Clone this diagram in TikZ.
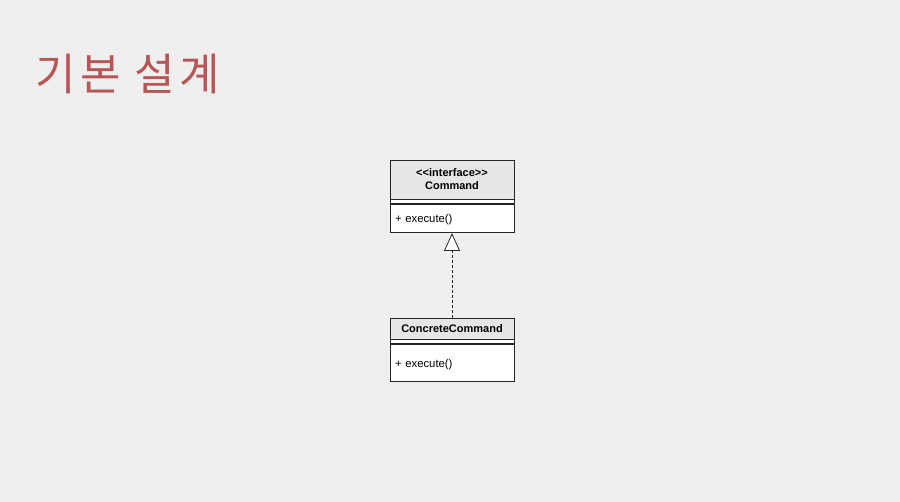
\documentclass[tikz,border=0pt]{standalone}
\usepackage{fontspec}
\setmainfont{Liberation Sans}
\newfontfamily\kofont[LetterSpace=10]{Noto Sans CJK KR}
\usetikzlibrary{positioning,arrows.meta}
\definecolor{bgcol}{RGB}{239,239,239}
\definecolor{titlered}{RGB}{184,86,86}
\definecolor{headgray}{RGB}{230,230,230}
\tikzset{
  classhead/.style={draw=black!85, line width=0.8pt, fill=headgray, minimum width=124pt, inner sep=0pt,
    text depth=0pt, font=\bfseries\fontsize{11}{13}\selectfont, align=center},
  classattr/.style={draw=black!85, line width=0.8pt, fill=white, minimum width=124pt, minimum height=4pt, inner sep=0pt},
  classops/.style={draw=black!85, line width=0.8pt, fill=white, text width=114pt, inner sep=5pt, align=left,
    text depth=0pt, font=\fontsize{11.3}{13}\selectfont},
  realize/.style={draw=black!85, line width=0.8pt, dash pattern=on 3pt off 2pt,
    -{Triangle[open,length=18pt,width=16pt,fill=white]}}
}
\begin{document}
\begin{tikzpicture}[x=1pt,y=-1pt]
  \fill[bgcol] (0,0) rectangle (900,502);
  \useasboundingbox (0,0) rectangle (900,502);
  \node[anchor=base west, inner sep=0pt, text=titlered, font=\kofont\fontsize{44}{50}\selectfont] (title) at (35,91) {기본 설계};
  \node[classhead, minimum height=39pt] (cmdhead) at (452,179.5) {{<}{<}interface{>}{>}\\Command};
  \node[classattr, below=0pt of cmdhead] (cmdattr) {};
  \node[classops, minimum height=28pt, below=0pt of cmdattr] (cmdops) {+ execute()};
  \node[classhead, minimum height=21pt] (conchead) at (452,328.5) {ConcreteCommand};
  \node[classattr, below=0pt of conchead] (concattr) {};
  \node[classops, minimum height=37pt, below=0pt of concattr] (concops) {+ execute()};
  \draw[realize] (conchead) -- (cmdops);
\end{tikzpicture}
\end{document}
